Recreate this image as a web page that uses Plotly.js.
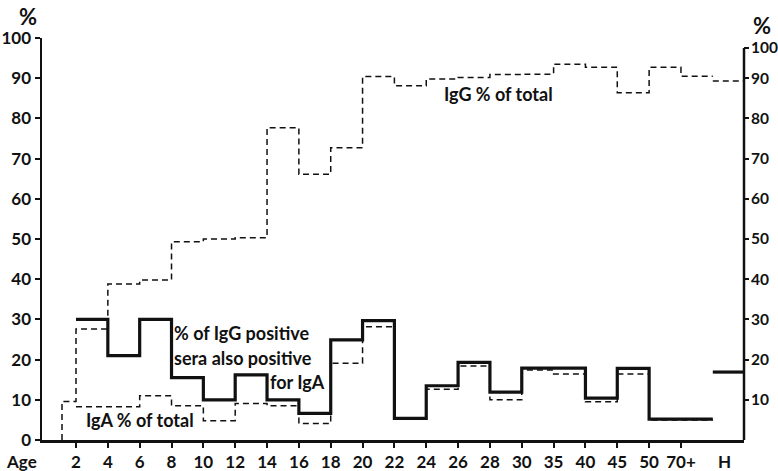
<!DOCTYPE html>
<html>
<head>
<meta charset="utf-8">
<script src="https://cdn.plot.ly/plotly-3.0.1.min.js"></script>
<style>html,body{margin:0;padding:0;background:#fff;}</style>
</head>
<body>
<div id="chart" style="width:778px;height:471px;"></div>
<script>
// Age group tick labels (bin boundaries), placed at positions 1..20
const ageTicks = ['2','4','6','8','10','12','14','16','18','20','22','24','26','28','30','35','40','45','50','70+'];
// Bin starts (in tick-position units); last entry is the end of the 70+ bin
const ageBinStarts = [1,2,3,4,5,6,7,8,9,10,11,12,13,14,15,16,17,18,19,20];
const ageBinEnd = 21;
// First (youngest) IgG bin starts before the "2" boundary
const youngestStart = 0.56;
// H (healthy controls) column
const hStart = 21, hEnd = 21.98;

// IgG % of total (dashed, upper)
const iggYoungest = 9.6;
const iggPct = [27.6,38.8,39.8,49.3,50.0,50.3,77.7,66.1,72.7,90.4,88.1,89.8,90.2,90.9,91.0,93.5,92.7,86.4,92.7,90.5];
const iggH = 89.3;

// % of IgG positive sera also positive for IgA (solid)
const posBoth = [30.0,21.0,30.0,15.5,10.0,16.2,10.0,6.6,24.9,29.7,5.4,13.5,19.3,11.9,17.9,17.9,10.4,17.8,5.2,5.2];
const posBothH = 16.9;

// IgA % of total (dashed, lower)
const igaPct = [8.3,8.3,11.0,8.5,4.8,9.1,8.5,4.1,19.1,28.2,5.2,12.6,18.4,10.0,17.4,16.4,9.5,16.4,5.0,5.0];

const yTicks = [0,10,20,30,40,50,60,70,80,90,100];
const yTicksRight = [10,20,30,40,50,60,70,80,90,100];

function stepXY(starts, vals, end){
  return {x: starts.concat([end]), y: vals.concat([vals[vals.length-1]])};
}

const W = 778, H = 471, L = 42, R = 744, T = 38, B = 440;
function px(x){ return (x - L) / (R - L); }
function py(y){ return (B - y) / (B - T); }

const FONT = 'Lato, "Open Sans", sans-serif';
const dashStyle = '6px,4px';

const igg = stepXY([youngestStart, youngestStart].concat(ageBinStarts), [0, iggYoungest].concat(iggPct), ageBinEnd);
const iggHs = stepXY([hStart], [iggH], hEnd);
const both = stepXY(ageBinStarts, posBoth, ageBinEnd);
const bothHs = stepXY([hStart], [posBothH], hEnd);
const iga = stepXY(ageBinStarts, igaPct, ageBinEnd);

const traces = [
  {x: igg.x, y: igg.y, mode:'lines', line:{shape:'hv', color:'#111', width:1.5, dash:dashStyle}, hoverinfo:'skip'},
  {x: iggHs.x, y: iggHs.y, mode:'lines', line:{shape:'hv', color:'#111', width:1.5, dash:dashStyle}, hoverinfo:'skip'},
  {x: iga.x, y: iga.y, mode:'lines', line:{shape:'hv', color:'#111', width:1.5, dash:dashStyle}, hoverinfo:'skip'},
  {x: both.x, y: both.y, mode:'lines', line:{shape:'hv', color:'#111', width:3.2}, hoverinfo:'skip'},
  {x: bothHs.x, y: bothHs.y, mode:'lines', line:{shape:'hv', color:'#111', width:3.2}, hoverinfo:'skip'},
  {x:[null], y:[null], yaxis:'y2', mode:'lines', hoverinfo:'skip'}
];

const tickFont = {family: FONT, size: 17, color:'#111', weight: 'bold'};
const txtFont = {family: FONT, size: 18, color:'#111', weight: 'bold'};

function ann(text, x, y, opts){
  return Object.assign({text: text, xref:'paper', yref:'paper', x: px(x), y: py(y),
    showarrow:false, font: txtFont, xanchor:'center', yanchor:'middle'}, opts||{});
}

const layout = {
  width: W, height: H,
  margin: {l: L, r: W - R, t: T, b: H - B},
  paper_bgcolor:'#fff', plot_bgcolor:'#fff',
  showlegend: false,
  xaxis: {
    range: [-0.068, hEnd], showgrid:false, zeroline:false,
    showline:true, linecolor:'#111', linewidth:2.5,
    tickmode:'array', tickvals: ageTicks.map((t,i)=>i+1), ticktext: ageTicks,
    ticks:'outside', ticklen:5, tickwidth:2, tickcolor:'#111',
    tickfont: tickFont
  },
  yaxis: {
    range: [0,100], showgrid:false, zeroline:false,
    showline:true, linecolor:'#111', linewidth:2.5,
    tickmode:'array', tickvals: yTicks, ticktext: yTicks.map(String),
    ticks:'outside', ticklen:5, tickwidth:2, tickcolor:'#111',
    tickfont: tickFont
  },
  yaxis2: {
    overlaying:'y', side:'right', range:[0,100], showgrid:false, zeroline:false,
    showline:false,
    tickmode:'array', tickvals: [10,20,30,40,50,60,70,80,90,97.5], ticktext: yTicksRight.map(String),
    ticks:'outside', ticklen:4, tickwidth:2, tickcolor:'#111',
    ticklabelstandoff: -1,
    tickfont: {family: FONT, size: 15.5, color:'#111', weight: 'bold'}
  },
  shapes: [
    {type:'line', xref:'paper', yref:'paper', x0:1, x1:1, y0:0, y1:py(48), line:{color:'#111', width:2.5}},
    {type:'line', xref:'paper', yref:'paper', x0:1, x1:px(749), y0:py(48), y1:py(48), line:{color:'#111', width:2}}
  ],
  annotations: [
    ann('%', 28, 17, {font:{family:FONT, size:22, color:'#111', weight:'bold'}}),
    ann('%', 762, 26, {font:{family:FONT, size:22, color:'#111', weight:'bold'}}),
    ann('Age', 21, 461, {font: tickFont}),
    ann('H', 724, 461, {font: tickFont}),
    ann('IgG % of total', 498, 94),
    ann('IgA % of total', 140, 420),
    ann('% of IgG positive', 172, 333, {xanchor:'left'}),
    ann('sera also positive', 172, 358, {xanchor:'left'}),
    ann('for IgA', 327, 382, {xanchor:'right'})
  ]
};

Plotly.newPlot('chart', traces, layout, {staticPlot:true, displayModeBar:false});
</script>
</body>
</html>
